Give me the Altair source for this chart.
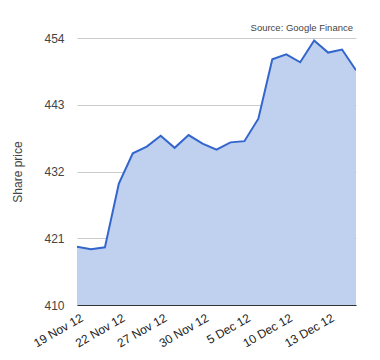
import altair as alt
import pandas as pd

dates = ["19 Nov 12", "20 Nov 12", "21 Nov 12", "22 Nov 12", "23 Nov 12",
         "26 Nov 12", "27 Nov 12", "28 Nov 12", "29 Nov 12", "30 Nov 12",
         "3 Dec 12", "4 Dec 12", "5 Dec 12", "6 Dec 12", "7 Dec 12",
         "10 Dec 12", "11 Dec 12", "12 Dec 12", "13 Dec 12", "14 Dec 12",
         "17 Dec 12"]
prices = [419.6, 419.2, 419.5, 430.0, 435.0, 436.1, 437.9, 435.9, 438.0, 436.6,
          435.6, 436.8, 437.0, 440.7, 450.5, 451.3, 450.0, 453.6, 451.6, 452.1,
          448.7]
label_dates = ["19 Nov 12", "22 Nov 12", "27 Nov 12", "30 Nov 12", "5 Dec 12",
               "10 Dec 12", "13 Dec 12"]
y_ticks = [410, 421, 432, 443, 454]

df = pd.DataFrame({"date": dates, "price": prices})

font = "Liberation Sans"

x = alt.X("date:O", sort=dates,
          scale=alt.Scale(type="point", padding=0),
          axis=alt.Axis(values=label_dates, title=None, labelAngle=-30,
                        labelAlign="right", labelBaseline="top",
                        labelPadding=7, labelOffset=2, ticks=False, grid=False,
                        labelOverlap=False, labelBound=False, labelFlush=False,
                        domainColor="#333333", domainWidth=1.2,
                        labelColor="#222222", labelFontSize=12, labelFont=font))
y = alt.Y("price:Q",
          scale=alt.Scale(domain=[410, 454], nice=False, zero=False),
          axis=alt.Axis(values=y_ticks, title="Share price", ticks=False,
                        domain=False, grid=True, gridColor="#cccccc",
                        labelColor="#444444", labelFontSize=12, labelFont=font,
                        labelPadding=13, titleFont=font, titleFontSize=12,
                        titleFontWeight="normal", titleColor="#444444",
                        titlePadding=19))

area = alt.Chart(df).mark_area(color="#c0d0ef", opacity=1, clip=True).encode(
    x=x, y=y, y2=alt.datum(410))
line = alt.Chart(df).mark_line(color="#3366cc", strokeWidth=2, clip=True).encode(x=x, y=y)

chart = alt.layer(area, line).properties(
    width=279, height=267,
    title=alt.Title("Source: Google Finance", anchor="end", fontSize=9.5,
                    fontWeight="normal", color="#444444", font=font, offset=0,
                    dx=-3),
    autosize=alt.AutoSizeParams(type="none"),
    padding={"left": 69, "top": 30, "right": 16, "bottom": 50},
).configure_view(stroke=None)

chart.save("out.html", embed_options={"renderer": "svg", "actions": False})
